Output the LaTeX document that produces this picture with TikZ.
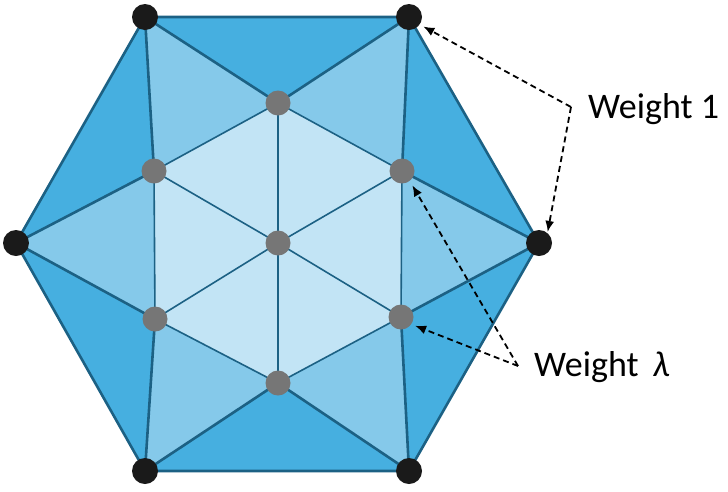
\documentclass[tikz,border=0pt]{standalone}
\usepackage{fontspec}
\setmainfont{Carlito}
\usetikzlibrary{arrows.meta}
\definecolor{dk}{HTML}{46AFE0}
\definecolor{md}{HTML}{85C9EA}
\definecolor{lt}{HTML}{C2E4F5}
\definecolor{ln}{HTML}{1C6184}
\definecolor{bk}{HTML}{1A1A1A}
\definecolor{gy}{HTML}{767676}
\tikzset{
  thickln/.style={draw=ln, line width=2.6pt, line join=round},
  thinln/.style={draw=ln, line width=1.6pt},
  bdot/.style={circle, fill=bk, minimum size=26pt, inner sep=0pt},
  gdot/.style={circle, fill=gy, minimum size=25pt, inner sep=0pt},
  darr/.style={draw=black, line width=1.8pt, dash pattern=on 6pt off 4pt, -{Latex[length=11pt,width=9pt]}},
  lbl/.style={font=\fontsize{36}{43}\selectfont, inner sep=0pt, anchor=base west}
}
\begin{document}
\begin{tikzpicture}[x=1pt,y=-1pt]
\useasboundingbox (0,0) rectangle (728,491);
% geometry
\coordinate (OTL) at (145,17);
\coordinate (OTR) at (409,17);
\coordinate (OR) at (539,243);
\coordinate (OBR) at (409,471);
\coordinate (OBL) at (145,471);
\coordinate (OL) at (16,243);
\coordinate (IT) at (278,103);
\coordinate (IUR) at (402,171);
\coordinate (ILR) at (401,317);
\coordinate (IB) at (278,383);
\coordinate (ILL) at (155,319);
\coordinate (IUL) at (154,171);
\coordinate (C) at (278,243);
% fills
\fill[dk] (OTL) -- (OTR) -- (OR) -- (OBR) -- (OBL) -- (OL) -- cycle;
\fill[md] (OTL) -- (IT) -- (OTR) -- (IUR) -- (OR) -- (ILR) -- (OBR) -- (IB) -- (OBL) -- (ILL) -- (OL) -- (IUL) -- cycle;
\fill[lt] (IT) -- (IUR) -- (ILR) -- (IB) -- (ILL) -- (IUL) -- cycle;
% inner lines
\draw[thinln] (IT) -- (IUR) -- (ILR) -- (IB) -- (ILL) -- (IUL) -- cycle;
\foreach \p in {IT,IUR,ILR,IB,ILL,IUL} \draw[thinln] (C) -- (\p);
% outer-to-inner lines
\draw[thickln] (OTL) -- (IT) -- (OTR) -- (IUR) -- (OR) -- (ILR) -- (OBR) -- (IB) -- (OBL) -- (ILL) -- (OL) -- (IUL) -- cycle;
% outer hexagon
\draw[thickln] (OTL) -- (OTR) -- (OR) -- (OBR) -- (OBL) -- (OL) -- cycle;
% dots
\node[bdot] (nOTL) at (OTL) {};
\node[bdot] (nOTR) at (OTR) {};
\node[bdot] (nOR) at (OR) {};
\node[bdot] (nOBR) at (OBR) {};
\node[bdot] (nOBL) at (OBL) {};
\node[bdot] (nOL) at (OL) {};
\node[gdot] (nIT) at (IT) {};
\node[gdot] (nIUR) at (IUR) {};
\node[gdot] (nILR) at (ILR) {};
\node[gdot] (nIB) at (IB) {};
\node[gdot] (nILL) at (ILL) {};
\node[gdot] (nIUL) at (IUL) {};
\node[gdot] (nC) at (C) {};
% labels
\node[lbl] (w1) at (588,118) {Weight 1};
\node[lbl] (wl) at (534,376) {Weight\hspace{6pt} \textit{λ}};
% arrows
\coordinate (k1) at (571,107);
\coordinate (k2) at (518,366);
\draw[darr, shorten >=4pt] (k1) -- (nOTR.-35);
\draw[darr, shorten >=1pt] (k1) -- (nOR.50);
\draw[darr, shorten >=4pt] (k2) -- (nILR.-35);
\draw[darr, shorten >=5pt] (k2) -- (nIUR.-52);
\end{tikzpicture}
\end{document}
